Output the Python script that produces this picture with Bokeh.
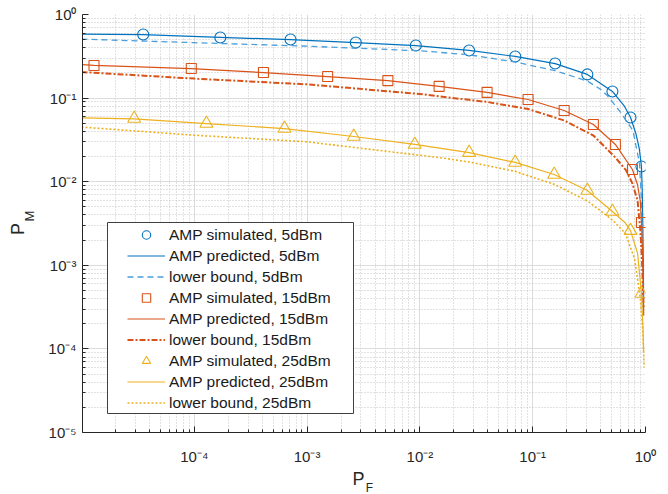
import math
from bokeh.plotting import figure
from bokeh.layouts import row, column
from bokeh.models import FixedTicker, Legend, LegendItem, Label, BoxAnnotation
from bokeh.embed import file_html
from bokeh.resources import INLINE

# ---------------- data ----------------
sim_pf_5 = [3.52e-5, 1.70e-4, 7.13e-4, 2.70e-3, 9.2e-3, 2.73e-2, 7.0e-2, 0.158, 0.305, 0.509, 0.736, 0.921]
sim_pm_5 = [0.576, 0.531, 0.502, 0.463, 0.425, 0.371, 0.315, 0.259, 0.192, 0.120, 0.0586, 0.0152]
pred_pf_5 = [1.0e-5, 3.5e-5, 1.7e-4, 7.1e-4, 2.7e-3, 9.2e-3, 2.73e-2, 7.0e-2, 0.158, 0.305, 0.509, 0.65, 0.736, 0.82, 0.88, 0.921, 0.935, 0.945, 0.955, 0.962]
pred_pm_5 = [0.582, 0.574, 0.533, 0.500, 0.462, 0.424, 0.372, 0.315, 0.258, 0.192, 0.120, 0.080, 0.059, 0.038, 0.025, 0.0152, 0.008, 0.0035, 0.0012, 0.0004]
lb_pf_5 = [1.0e-5, 1.0e-4, 1.0e-3, 1.0e-2, 2.73e-2, 7.1e-2, 0.155, 0.305, 0.398, 0.459, 0.6, 0.774, 0.885, 0.915, 0.935, 0.948, 0.956]
lb_pm_5 = [0.508, 0.46, 0.418, 0.368, 0.330, 0.269, 0.214, 0.160, 0.128, 0.107, 0.068, 0.041, 0.0165, 0.007, 0.0025, 0.0009, 0.0003]

sim_pf_15 = [1.29e-5, 9.4e-5, 4.1e-4, 1.52e-3, 5.2e-3, 1.48e-2, 3.94e-2, 9.1e-2, 0.190, 0.345, 0.541, 0.766, 0.921]
sim_pm_15 = [0.245, 0.226, 0.202, 0.181, 0.162, 0.138, 0.117, 0.0962, 0.0711, 0.0483, 0.0279, 0.0140, 0.00325]
pred_pf_15 = [1.0e-5, 1.29e-5, 9.4e-5, 4.1e-4, 1.52e-3, 5.2e-3, 1.48e-2, 3.94e-2, 9.1e-2, 0.19, 0.345, 0.541, 0.766, 0.85, 0.90, 0.921, 0.94, 0.955, 0.965]
pred_pm_15 = [0.251, 0.246, 0.225, 0.202, 0.181, 0.162, 0.138, 0.117, 0.0962, 0.0711, 0.0483, 0.0279, 0.0140, 0.0092, 0.0058, 0.00325, 0.0015, 0.0006, 0.00025]
lb_pf_15 = [1.0e-5, 1.0e-4, 1.0e-3, 1.0e-2, 1.5e-2, 3.94e-2, 9.1e-2, 0.19, 0.345, 0.54, 0.673, 0.766, 0.85, 0.90, 0.93, 0.95, 0.962]
lb_pm_15 = [0.205, 0.171, 0.146, 0.112, 0.1045, 0.090, 0.074, 0.054, 0.0357, 0.0195, 0.0137, 0.0095, 0.0060, 0.0026, 0.0012, 0.0005, 0.0003]

sim_pf_25 = [2.93e-5, 1.28e-4, 6.3e-4, 2.59e-3, 9.0e-3, 2.73e-2, 6.99e-2, 0.155, 0.305, 0.509, 0.736, 0.921]
sim_pm_25 = [0.0570, 0.0497, 0.0433, 0.0347, 0.0279, 0.0223, 0.0170, 0.0122, 0.00785, 0.0044, 0.0026, 0.00046]
pred_pf_25 = [1.0e-5, 2.93e-5, 1.28e-4, 6.3e-4, 2.59e-3, 9.0e-3, 2.73e-2, 6.99e-2, 0.155, 0.305, 0.509, 0.664, 0.736, 0.85, 0.921, 0.95, 0.962]
pred_pm_25 = [0.058, 0.0565, 0.0495, 0.0432, 0.0347, 0.0279, 0.0223, 0.0170, 0.0122, 0.00785, 0.0044, 0.0032, 0.0026, 0.0014, 0.00046, 0.00018, 0.00009]
lb_pf_25 = [1.0e-5, 1.0e-4, 1.0e-3, 1.5e-2, 2.73e-2, 7.0e-2, 0.155, 0.305, 0.398, 0.52, 0.664, 0.8, 0.9, 0.95, 0.972]
lb_pm_25 = [0.0450, 0.036, 0.030, 0.0194, 0.0172, 0.0133, 0.0093, 0.0059, 0.0045, 0.0034, 0.0024, 0.0012, 0.0004, 0.00015, 0.00006]

legend_labels = ["AMP simulated, 5dBm", "AMP predicted, 5dBm", "lower bound, 5dBm",
                 "AMP simulated, 15dBm", "AMP predicted, 15dBm", "lower bound, 15dBm",
                 "AMP simulated, 25dBm", "AMP predicted, 25dBm", "lower bound, 25dBm"]

x_tick_vals = [1e-4, 1e-3, 1e-2, 1e-1, 1.0]
x_tick_labels = ["10\u207b\u2074", "10\u207b\u00b3", "10\u207b\u00b2", "10\u207b\u00b9", "10\u2070"]
y_tick_vals = [1e-5, 1e-4, 1e-3, 1e-2, 1e-1, 1.0]
y_tick_labels = ["10\u207b\u2075", "10\u207b\u2074", "10\u207b\u00b3", "10\u207b\u00b2", "10\u207b\u00b9", "10\u2070"]

x_title, x_sub = "P", "F"
y_title, y_sub = "P", "M"

# ---------------- styling ----------------
BLUE = "#0072BD"
LBLUE = "#4a9fdc"
ORANGE = "#D95319"
YELLOW = "#EDB120"
INK = "#262626"
FONT = "Liberation Sans"

p = figure(width=626, height=468, x_axis_type="log", y_axis_type="log",
           x_range=(1.02e-5, 1.0), y_range=(1e-5, 1.0),
           output_backend="svg", toolbar_location=None,
           min_border_left=40, min_border_right=23, min_border_top=14, min_border_bottom=36)
p.outline_line_color = None
p.background_fill_color = "white"
p.border_fill_color = "white"

minor = [m * 10.0 ** d for d in range(-5, 0) for m in range(2, 10)]
p.xaxis.ticker = FixedTicker(ticks=x_tick_vals, minor_ticks=minor)
p.yaxis.ticker = FixedTicker(ticks=y_tick_vals, minor_ticks=minor)
p.xaxis.major_label_overrides = dict(zip(x_tick_vals, x_tick_labels))
p.yaxis.major_label_overrides = dict(zip(y_tick_vals, y_tick_labels))

for ax in (p.xaxis, p.yaxis):
    ax.axis_line_color = INK
    ax.axis_line_width = 1
    ax.major_tick_line_color = INK
    ax.minor_tick_line_color = INK
    ax.major_tick_in = 6
    ax.major_tick_out = 0
    ax.minor_tick_in = 3
    ax.minor_tick_out = 0
    ax.major_label_text_font = FONT
    ax.major_label_text_font_size = "15px"
    ax.major_label_text_color = INK
p.yaxis.major_label_standoff = 6
p.yaxis.major_label_text_baseline = "hanging"
p.xaxis.major_label_standoff = 15

for g in (p.xgrid, p.ygrid):
    g.grid_line_color = "#dcdcdc"
    g.grid_line_width = 1
    g.minor_grid_line_color = "#c4c4c4"
    g.minor_grid_line_dash = "1 2"
    g.minor_grid_line_width = 1

# ---------------- series ----------------
r1 = p.scatter(sim_pf_5, sim_pm_5, marker="circle", size=11, fill_color=None, line_color=BLUE, line_width=1.1)
r2 = p.line(pred_pf_5, pred_pm_5, line_color=BLUE, line_width=1.2)
r3 = p.line(lb_pf_5, lb_pm_5, line_color=LBLUE, line_width=1.3, line_dash="6 4")
r4 = p.scatter(sim_pf_15, sim_pm_15, marker="square", size=10, fill_color=None, line_color=ORANGE, line_width=1.1)
r5 = p.line(pred_pf_15, pred_pm_15, line_color=ORANGE, line_width=1.2)
r6 = p.line(lb_pf_15, lb_pm_15, line_color=ORANGE, line_width=2, line_dash="6 2 2 2")
r7 = p.scatter(sim_pf_25, sim_pm_25, marker="triangle", size=13, fill_color=None, line_color=YELLOW, line_width=1.1)
r8 = p.line(pred_pf_25, pred_pm_25, line_color=YELLOW, line_width=1.2)
r9 = p.line(lb_pf_25, lb_pm_25, line_color=YELLOW, line_width=1.6, line_dash="2 2")

# legend frame
box = BoxAnnotation(left=25, right=271, top=210, bottom=19,
                    left_units="screen", right_units="screen", top_units="screen", bottom_units="screen",
                    fill_color="white", fill_alpha=1.0, line_color="#404040", line_width=1, line_alpha=1.0)
p.add_layout(box)

items = [LegendItem(label=lab, renderers=[r]) for lab, r in zip(legend_labels, [r1, r2, r3, r4, r5, r6, r7, r8, r9])]
legend = Legend(items=items, location=(43, 17), padding=2, spacing=0, margin=0,
                label_height=21, glyph_height=21, glyph_width=38, label_standoff=4,
                border_line_alpha=0, background_fill_alpha=0,
                label_text_font=FONT, label_text_font_size="15.5px", label_text_color="#1a1a1a")
p.add_layout(legend)


def blank(w, h):
    f = figure(width=w, height=h, x_range=(0, w), y_range=(0, h), x_axis_type=None, y_axis_type=None,
               output_backend="svg", toolbar_location=None, min_border=0)
    f.outline_line_color = None
    f.xgrid.visible = False
    f.ygrid.visible = False
    f.background_fill_color = "white"
    f.border_fill_color = "white"
    return f


# y axis title strip (left)
left = blank(42, 494)
left.add_layout(Label(x=17.5, y=265.5, x_units="screen", y_units="screen", text=y_title, angle=math.pi / 2,
                      text_align="center", text_baseline="middle", text_font=FONT, text_font_size="18px", text_color=INK))
left.add_layout(Label(x=28.5, y=278.5, x_units="screen", y_units="screen", text=y_sub, angle=math.pi / 2,
                      text_align="center", text_baseline="middle", text_font=FONT, text_font_size="13px", text_color=INK))

# x axis title strip (bottom); its frame is aligned with the main frame (starts at x=82)
bottom = blank(626, 26)
bottom.add_layout(Label(x=276, y=16, x_units="screen", y_units="screen", text=x_title,
                        text_align="center", text_baseline="middle", text_font=FONT, text_font_size="18px", text_color=INK))
bottom.add_layout(Label(x=287, y=7, x_units="screen", y_units="screen", text=x_sub,
                        text_align="center", text_baseline="middle", text_font=FONT, text_font_size="12px", text_color=INK))

layout = row(left, column(p, bottom))
open("out.html", "w").write(file_html(layout, INLINE))
